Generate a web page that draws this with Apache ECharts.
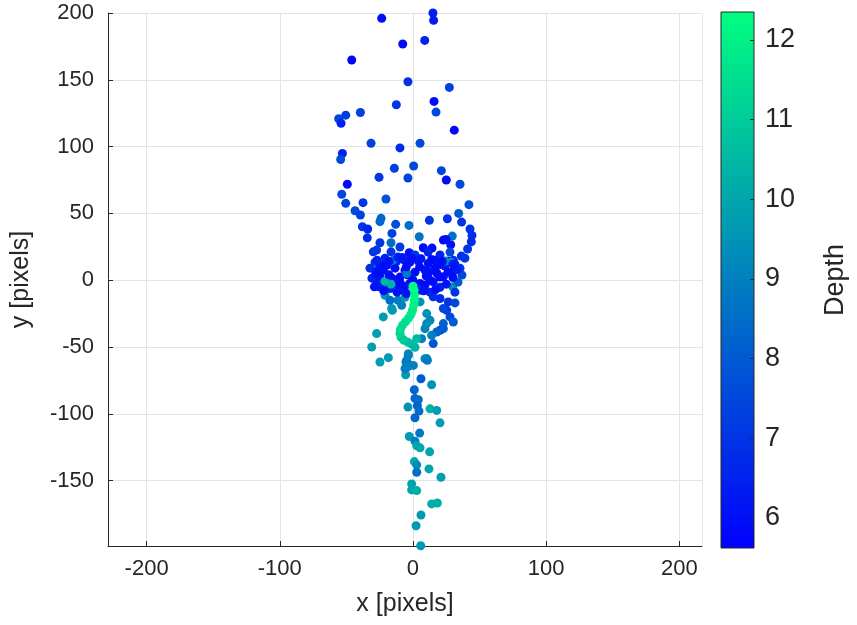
<!DOCTYPE html>
<html>
<head>
    <meta charset="utf-8">
    <title>Depth scatter</title>
    <script src="https://cdn.jsdelivr.net/npm/echarts@6/dist/echarts.min.js"></script>
</head>
<style>
    body{ margin:0; background:#fff; }
    #main{ width:857px; height:625px; }
</style>
<body>
<div id="main"></div>
<script>
    // points are [x, y, depth]
    var capPoints = [
        [15,200,6.4],[15.5,194.5,6.3],[-23.5,196,5.9],[-7.7,176.8,5.9],[8.8,179.5,6.5],[-46,164.8,5.8],
        [-3.8,148.5,6.9],[27.3,144.3,7.3],[15.8,133.8,5.9],[-12.5,131.3,7.0],[17.3,125.8,7.5],[-39.5,125.5,7.3],
        [-50.5,123.5,7.2],[-55.8,120.8,7.5],[-54,117.5,6.5],[31,112.3,5.8],[-31.5,102.5,7.3],[5.3,102.5,7.6],
        [-9.8,99,6.8],[-53,94.8,6.5],[-54.3,90.3,7.6],[-14,83.8,7.3],[0.5,85.5,7.5],[21.3,82,7.5],
        [-25.5,77,7.0],[-3.8,76.5,7.4],[25,75,5.9]
    ];
    var upperRing = [
        [-49.3,71.8,5.9],[-53.5,64.3,7.5],[-50.5,57.5,7.4],[-37.5,58,7.0],[-20.3,60.8,7.8],[-43.5,52,7.6],
        [-39.5,48.8,7.3],[-24,46.3,8.3],[-24.8,43.8,8.3],[-13,41.8,7.7],[-3,41,8.5],[-38,40,7.0],
        [-34,38.3,6.6],[-15.8,35,7.3],[-34.3,31.7,6.8],[-24.8,28,7.0],[-16.5,28,8.5],
        [35.3,71.8,7.6],[42,56.5,7.7],[34.3,50,8.0],[36.5,43.5,7.0],[25.8,46,6.9],[12.3,44.8,7.0],
        [42.8,38.3,6.9],[44.3,33.5,6.8],[43.8,28.8,6.7],[29.5,33,8.6],[4.7,32.5,8.7],[22.8,30,5.9],
        [24.8,30.5,6.0],[28.3,26.5,6.1],[7.7,24.3,5.9],[41,23.3,7.0],[36.3,18,6.8],[14.3,24,5.9]
    ];
    var midRing = [
        [-27.3,22.5,7.2],[-29.8,21.2,7.0],[-16.5,21.2,7.0],[-2.8,20.5,5.9],[-12.2,14.3,6.5],[-6.5,15,6.3],
        [4,14.3,6.2],[11.5,12.5,6.0],[19,11.3,6.0],[26.5,14.3,6.3],[30.3,15,6.8],[-22.3,7.5,6.0],
        [-24.8,2.5,6.0],[-27.3,-2.5,6.2],[-25.3,-5,6.3],[-17.3,-6.2,6.5],[-9.8,-7.5,6.2],[-2.3,-2.5,6.0],
        [5.3,-2.5,6.0],[15.2,-1.3,6.0],[22.8,2.5,6.0],[29,6.2,6.2],[29.8,-5,9.5],
        [-19.5,11.3,6.0],[-13.5,9,6.0],[-6,7.5,6.1],[-15.8,1.5,6.0],[-9.8,2.3,5.9],[-3.8,3.8,5.9],
        [1.5,6,6.0],[9,7.5,6.1],[16.5,9,6.0],[24,10.5,6.2],[31.5,12,6.5],[20.3,2.3,5.9],[12.8,0,5.9],
        [9,-3.8,6.0],[-21,-1.5,6.1],[-12.8,-3,5.9],[-6,-4.5,6.0],[-30.8,1.5,6.5],[-32.3,9,6.8],
        [-28.5,13.5,7.0],[35.3,9,7.0],[36.8,3.8,7.5],[33.8,-1.5,8.0],[1.5,18.8,7.0],[11.3,21,6.5],
        [20.3,18.8,6.5],[27.8,21,7.5],[-9.8,24.8,7.2],[-21,16.5,6.5],[39,16.5,7.0],[31.5,-9,7.0],
        [-15,15,8.8],[-4.7,5,8.8],[-21,-0.8,10.5],[-16.5,-3,10.3],[24,14.3,9.5],[28.5,13.5,9.5],
        [-11.3,17.3,6.3],[16.5,15,6.1],[-2.3,13.5,6.0],[-26.3,7.5,6.0],[26.3,6,6.0],
        [5.3,-7.5,6.5],[12.8,-9,6.6],[20.3,-5.3,6.5]
    ];
    var ringFill = [
        [-28,5,6.0],[-29,-5,6.1],[-22,-8,6.0],[-12,-9,6.1],[-5,-10,6.2],[0,-9,6.0],[8,-8,6.1],
        [17,-7,6.0],[25,-3,6.2],[30,2,6.0],[33,8,6.3],[30,12,6.1],[22,14,6.0],[14,15.5,6.0],
        [6,16,6.1],[-1,16.5,6.0],[-8,17,6.2],[-18,14,6.1],[-24,11,6.0],[-27,15,6.4],[-18,4,6.0],
        [-10,-1,5.9],[0,0,5.9],[10,3,6.0],[18,5,5.9],[-5,10,6.0],[5,10,6.0],[12,6,6.0]
    ];
    var lowerLoop = [
        [15.2,-12.5,6.8],[20.3,-13.7,6.8],[26.5,-16.3,7.0],[31.5,-17,7.5],[25.3,-22.5,7.3],[27.8,-27.5,7.5],
        [30.3,-31.3,8.0],[22.8,-32.5,8.2],[20.3,-37.5,7.5],[15.2,-47.5,7.8],[22.8,-21.2,7.5],
        [22.8,-36.3,8.0],[17.8,-38.8,8.2],
        [10.3,-25,9.5],[10.3,-32.5,9.3],[-16,-21.2,9.8],[-22.3,-27.5,9.8],[-27.3,-40,9.8],[-31,-50,9.8],
        [-11.3,-15,9.0],[-6,-12.8,9.5],[-21,-11.3,9.5],[-17.3,-15,8.5],
        [-15.5,-22.5,9.7],[-8.5,-18.8,9.0],[5.3,-16.3,9.5],[12.8,-30,9.3],[9,-36.3,9.2],[6.5,-43.8,9.0],
        [14,-41.3,9.0],[10.3,-58.7,9.2],[-3.5,-55,9.3],[-4.7,-60,9.0],[-6,-66.3,9.0],[-2.3,-63.8,8.8],
        [2.8,-43.8,10.5],[-24.8,-61.3,9.8],[-18.5,-58,9.7],
        [0.3,-63.8,9.0],[9,-58.8,9.2],[10.8,-60,8.8],[-5.3,-61.3,8.8],[-4.3,-65,9.0],[-3.5,-56.3,9.0]
    ];
    var tailPoints = [
        [-5.5,-70.8,9.7],[6,-73.8,8.0],[14,-78.3,9.5],[1,-82,8.3],[1.5,-88.5,8.3],[4,-89.5,8.5],
        [-3.8,-95,9.5],[3.3,-94,8.3],[4.5,-98,8.5],[1.5,-103,8.3],[12.8,-96.3,10.2],[17.8,-97.5,9.7],
        [20.3,-106.8,9.8],[5,-114.5,8.8],[-2.8,-117,9.7],[1.5,-120.5,9.0],[2.8,-124,10.0],[5.3,-125.5,10.0],
        [12.5,-128.5,10.0],[1,-135.8,10.2],[2.8,-138.3,9.3],[2.8,-143.8,8.6],[12,-141.3,10.0],[21,-147.5,9.8],
        [-1,-152.5,9.9],[-1,-157,10.0],[2.8,-157.5,10.2],[14,-167.5,10.2],[18.3,-166.8,10.2],[6,-175.8,9.7],
        [2.3,-183.8,9.7],[5.8,-198.8,9.7]
    ];
    var greenTrail = [
        [0,-4.5,12.3],[0.8,-7.5,12.3],[1.1,-11.3,12.2],[1,-15,12.1],[0.5,-18.8,12.0],[-0.4,-22.5,11.9],
        [-1.5,-25.5,11.8],[-3.4,-28.5,11.7],[-5.6,-31.1,11.6],[-7.9,-33.8,11.5],[-9.4,-36.8,11.4],
        [-9.8,-39.8,11.3],[-9,-42.8,11.2],[-6.8,-45,11.0],[-3.8,-46.5,10.8],[-0.8,-48,10.6],[1.5,-50.3,10.4]
    ];
    var depthRange = [5.62, 12.35];
    var xRange = [-229, 217];
    var yRange = [-199, 200];

    var allPoints = [].concat(tailPoints, lowerLoop, capPoints, upperRing, midRing, ringFill, greenTrail);

    var txt = '#262626';
    var font = 'Liberation Sans';
    var myChart = echarts.init(document.getElementById('main'));
    var option = {
        animation: false,
        textStyle: {fontFamily: font},
        grid: [
            {left: 108, right: 155, top: 13, bottom: 79},
            {left: 721, top: 12, width: 33, height: 536, show: true, borderColor: txt, borderWidth: 1,
                backgroundColor: {type: 'linear', x: 0, y: 0, x2: 0, y2: 1,
                    colorStops: [{offset: 0, color: '#00ff80'}, {offset: 1, color: '#0000ff'}]}}
        ],
        xAxis: [
            {type: 'value', gridIndex: 0, min: xRange[0], max: xRange[1], splitNumber: 5,
                name: 'x [pixels]', nameLocation: 'middle', nameGap: 46,
                nameTextStyle: {color: txt, fontSize: 25, fontFamily: font},
                axisLine: {onZero: false, lineStyle: {color: txt}},
                axisTick: {inside: true, length: 5, lineStyle: {color: txt}},
                axisLabel: {color: txt, fontSize: 22, margin: 12, showMinLabel: false, showMaxLabel: false},
                splitLine: {show: true, lineStyle: {color: '#e4e4e4'}}},
            {type: 'value', gridIndex: 1, min: 0, max: 1, show: false}
        ],
        yAxis: [
            {type: 'value', gridIndex: 0, min: yRange[0], max: yRange[1], splitNumber: 8,
                name: 'y [pixels]', nameLocation: 'middle', nameGap: 74, nameRotate: 90,
                nameTextStyle: {color: txt, fontSize: 25, fontFamily: font},
                axisLine: {show: true, onZero: false, lineStyle: {color: txt}},
                axisTick: {show: true, inside: true, length: 5, lineStyle: {color: txt}},
                axisLabel: {color: txt, fontSize: 22, margin: 14, showMinLabel: false},
                splitLine: {show: true, lineStyle: {color: '#e4e4e4'}}},
            {type: 'value', gridIndex: 1, position: 'right', min: depthRange[0], max: depthRange[1], splitNumber: 7,
                name: 'Depth', nameLocation: 'middle', nameGap: 68, nameRotate: 90,
                nameTextStyle: {color: txt, fontSize: 27, fontFamily: font},
                axisLine: {show: false, onZero: false},
                axisTick: {show: true, inside: true, length: 4, lineStyle: {color: txt}},
                axisLabel: {color: txt, fontSize: 27, margin: 11, showMinLabel: false, showMaxLabel: false},
                splitLine: {show: false}}
        ],
        visualMap: {
            show: false, type: 'continuous', seriesIndex: 0, dimension: 2,
            min: depthRange[0], max: depthRange[1],
            inRange: {color: ['#0000ff', '#00ff80']}
        },
        series: [
            {type: 'scatter', xAxisIndex: 0, yAxisIndex: 0, symbolSize: 9, data: allPoints,
                itemStyle: {opacity: 1}}
        ]
    };
    myChart.setOption(option);
</script>
</body>
</html>
